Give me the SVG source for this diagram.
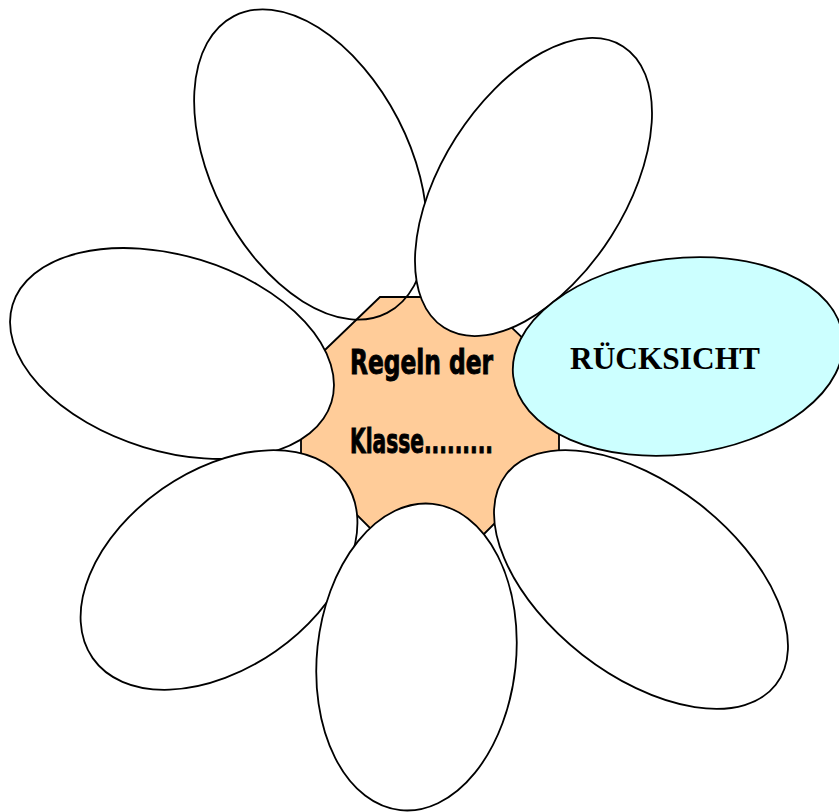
<svg xmlns="http://www.w3.org/2000/svg" width="839" height="812" viewBox="0 0 839 812">
<style>
.p{fill:#FFFFFF;stroke:#000;stroke-width:1.8}
.open{fill:none;stroke:#000;stroke-width:1.8}
.c{fill:#FFCC99;stroke:#000;stroke-width:1.8}
.cy{fill:#CCFFFF;stroke:#000;stroke-width:1.8}
.imp{font-family:"DejaVu Sans Condensed","DejaVu Sans",sans-serif;font-weight:bold;font-size:34px;fill:#000;stroke:#000;stroke-width:0.9}
.tnr{font-family:"Liberation Serif","Times New Roman",serif;font-weight:bold;font-size:31px;fill:#000}
</style>
<rect width="839" height="812" fill="#FFFFFF"/>
<g id="center">
<polygon class="c" points="380,297 480,297 559,373 559,459 482,536 378,536 301,459 301,373"/>
</g>
<g id="petal-top-left">
<ellipse class="open" cx="310.5" cy="164.5" rx="167" ry="98.6" transform="rotate(62.7 310.5 164.5)"/>
</g>
<g id="petal-left">
<ellipse class="p" cx="172" cy="353.5" rx="166.7" ry="97.8" transform="rotate(17 172 353.5)"/>
</g>
<g id="petal-lower-left">
<ellipse class="p" cx="219" cy="570" rx="154" ry="99" transform="rotate(-34.9 219 570)"/>
</g>
<g id="petal-bottom">
<ellipse class="p" cx="416.5" cy="657" rx="99.5" ry="154" transform="rotate(6 416.5 657)"/>
</g>
<g id="petal-lower-right">
<ellipse class="p" cx="641" cy="579.5" rx="171" ry="95.4" transform="rotate(38 641 579.5)"/>
</g>
<g id="petal-top-right">
<ellipse class="p" cx="533.5" cy="187" rx="166.7" ry="92" transform="rotate(-57.5 533.5 187)"/>
</g>
<g id="petal-right">
<ellipse class="cy" cx="678" cy="356.5" rx="166" ry="98" transform="rotate(-7 678 356.5)"/>
<text class="tnr" x="570" y="369" textLength="190" lengthAdjust="spacingAndGlyphs">RÜCKSICHT</text>
</g>
<g id="center-label">
<text class="imp" x="350" y="374" textLength="143" lengthAdjust="spacingAndGlyphs">Regeln der</text>
<text class="imp" x="350" y="453" textLength="143" lengthAdjust="spacingAndGlyphs">Klasse.........</text>
</g>
<g id="connectors"></g>
</svg>
